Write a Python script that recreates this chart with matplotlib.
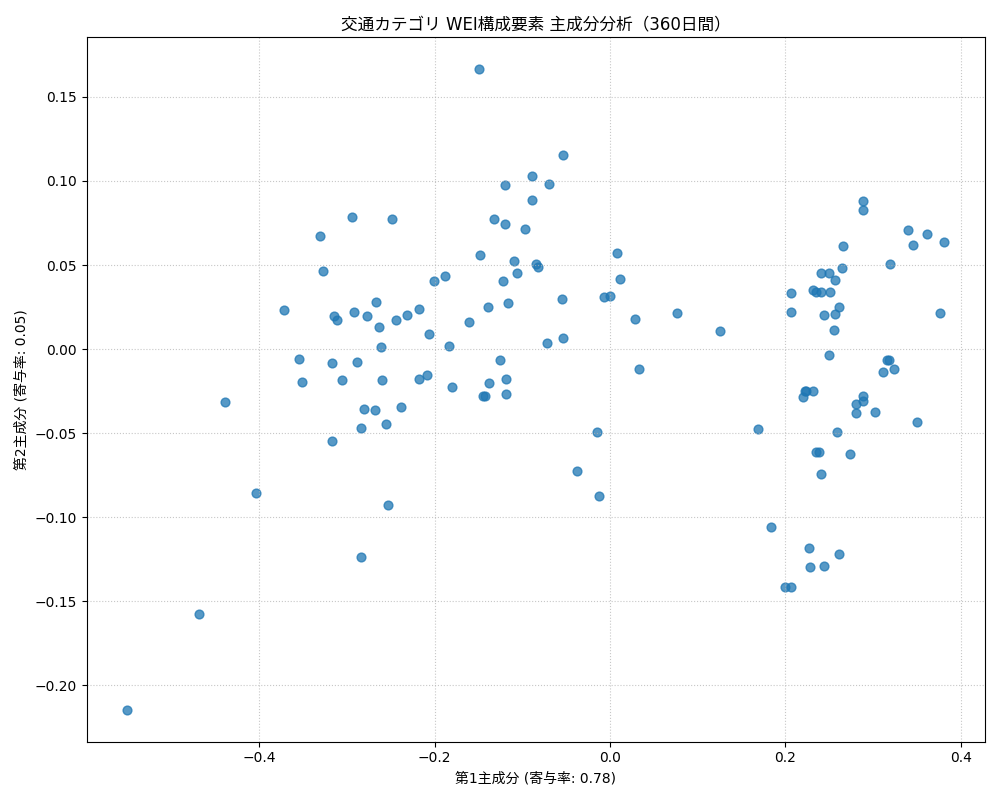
import matplotlib
matplotlib.use('Agg')
import matplotlib.pyplot as plt

plt.rcParams['font.family'] = ['DejaVu Sans', 'Noto Sans CJK JP']

pc1 = [-0.550, -0.468, -0.439, -0.403, -0.372, -0.331, -0.327, -0.294, -0.355, -0.351,
       -0.317, -0.315, -0.311, -0.317, -0.305, -0.292, -0.288, -0.277, -0.284, -0.280,
       -0.284, -0.268, -0.267, -0.263, -0.261, -0.260, -0.255, -0.253, -0.248, -0.244,
       -0.238, -0.231, -0.218, -0.218, -0.208, -0.206, -0.201, -0.188, -0.184, -0.180,
       -0.161, -0.149, -0.148, -0.145, -0.142, -0.139, -0.138, -0.132, -0.125, -0.122,
       -0.120, -0.120, -0.119, -0.119, -0.116, -0.109, -0.106, -0.097, -0.089, -0.089,
       -0.084, -0.082, -0.072, -0.069, -0.055, -0.053, -0.053, -0.038, -0.015, -0.013,
       -0.007, 0.000, 0.008, 0.011, 0.028, 0.033, 0.076, 0.125, 0.169, 0.184,
       0.199, 0.206, 0.206, 0.206, 0.220, 0.222, 0.223, 0.227, 0.228, 0.232,
       0.232, 0.235, 0.235, 0.238, 0.241, 0.241, 0.241, 0.244, 0.244, 0.250,
       0.250, 0.251, 0.255, 0.256, 0.257, 0.259, 0.261, 0.261, 0.265, 0.266,
       0.274, 0.280, 0.280, 0.288, 0.288, 0.288, 0.288, 0.302, 0.311, 0.316,
       0.318, 0.319, 0.324, 0.340, 0.345, 0.350, 0.361, 0.376, 0.381]
pc2 = [-0.2145, -0.1575, -0.0315, -0.0856, 0.0232, 0.0671, 0.0463, 0.0784, -0.0059, -0.0196,
       -0.0083, 0.0196, 0.0172, -0.0547, -0.0184, 0.0220, -0.0077, 0.0196, -0.0469, -0.0357,
       -0.1236, -0.0362, 0.0279, 0.0131, 0.0012, -0.0184, -0.0446, -0.0927, 0.0772, 0.0172,
       -0.0345, 0.0202, 0.0238, -0.0178, -0.0154, 0.0089, 0.0404, 0.0434, 0.0018, -0.0226,
       0.0160, 0.1664, 0.0559, -0.0279, -0.0279, 0.0250, -0.0202, 0.0772, -0.0065, 0.0404,
       0.0974, 0.0743, -0.0178, -0.0267, 0.0273, 0.0523, 0.0452, 0.0713, 0.1028, 0.0885,
       0.0505, 0.0487, 0.0036, 0.0980, 0.0297, 0.0065, 0.1153, -0.0725, -0.0493, -0.0873,
       0.0309, 0.0315, 0.0570, 0.0416, 0.0178, -0.0119, 0.0214, 0.0107, -0.0475, -0.1058,
       -0.1414, 0.0333, 0.0220, -0.1414, -0.0285, -0.0250, -0.0250, -0.1182, -0.1295, -0.0250,
       0.0351, 0.0339, -0.0612, -0.0612, 0.0452, 0.0339, -0.0743, -0.1289, 0.0202, -0.0036,
       0.0452, 0.0339, 0.0113, 0.0208, 0.0410, -0.0493, 0.0250, -0.1218, 0.0481, 0.0612,
       -0.0624, -0.0327, -0.0380, 0.0879, 0.0826, -0.0279, -0.0309, -0.0374, -0.0137, -0.0065,
       -0.0065, 0.0505, -0.0119, 0.0707, 0.0618, -0.0434, 0.0683, 0.0214, 0.0636]

fig, ax = plt.subplots(figsize=(10, 8), dpi=100)
ax.scatter(pc1, pc2, color='#1f77b4', alpha=0.75, s=40)
ax.set_title('交通カテゴリ WEI構成要素 主成分分析（360日間）')
ax.set_xlabel('第1主成分 (寄与率: 0.78)')
ax.set_ylabel('第2主成分 (寄与率: 0.05)')
ax.grid(True, linestyle=':', alpha=0.7)
plt.tight_layout()
fig.savefig('out.png', dpi=100)
